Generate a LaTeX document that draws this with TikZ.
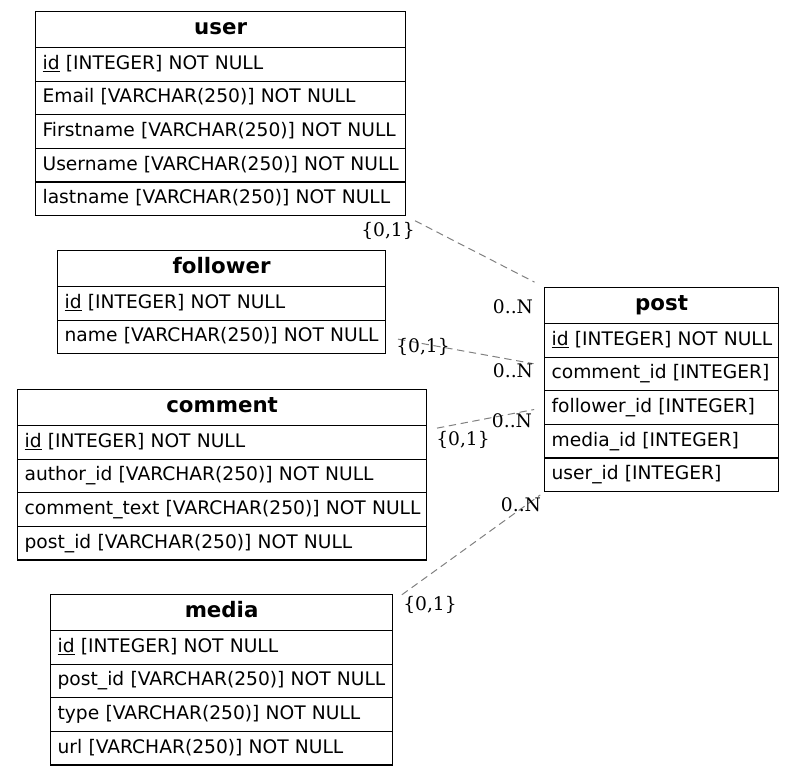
\documentclass[tikz,border=0pt]{standalone}
\usepackage{fontspec}
\setmainfont{DejaVu Sans}
\newfontfamily\cardfont{DejaVu Serif}
\tikzstyle{tblhead} = [draw, line width=0.9pt, anchor=north west, minimum height=27pt, inner xsep=5.25pt, align=center, text height=0.85em, text depth=0.12em, font=\fontsize{16}{19}\selectfont\bfseries]
\tikzstyle{tblrow} = [draw, line width=0.9pt, anchor=north west, minimum height=25.2pt, inner xsep=5.25pt, align=left, text height=0.85em, text depth=0.11em, font=\fontsize{14}{17}\selectfont, execute at begin node={\hbox\bgroup}, execute at end node={\egroup}]
\tikzstyle{rel} = [gray, line width=0.75pt, dash pattern=on 5.5pt off 3.5pt]
\tikzstyle{card} = [anchor=base, inner sep=0pt, font=\cardfont\fontsize{14}{17}\selectfont]

\begin{document}
\begin{tikzpicture}[x=0.75pt, y=-0.75pt]
        \useasboundingbox (0,0) rectangle (795,775);
        % Node positions
        \node[tblhead, text width=267pt] (usertitle) at (35,11) {user};
        \node[tblrow, text width=267pt] (userid) at (35,47) {\underline{id} [INTEGER] NOT NULL};
        \node[tblrow, text width=267pt] (useremail) at (35,80.6) {Email [VARCHAR(250)] NOT NULL};
        \node[tblrow, text width=267pt] (userfirst) at (35,114.2) {Firstname [VARCHAR(250)] NOT NULL};
        \node[tblrow, text width=267pt] (username) at (35,147.8) {Username [VARCHAR(250)] NOT NULL};
        \node[tblrow, text width=267pt] (userlast) at (35,181.4) {lastname [VARCHAR(250)] NOT NULL};

        \node[tblhead, text width=235.5pt] (followertitle) at (57,250) {follower};
        \node[tblrow, text width=235.5pt] (followerid) at (57,286) {\underline{id} [INTEGER] NOT NULL};
        \node[tblrow, text width=235.5pt] (followername) at (57,319.6) {name [VARCHAR(250)] NOT NULL};

        \node[tblhead, text width=296.25pt] (commenttitle) at (17,389) {comment};
        \node[tblrow, text width=296.25pt] (commentid) at (17,425) {\underline{id} [INTEGER] NOT NULL};
        \node[tblrow, text width=296.25pt] (commentauthor) at (17,458.6) {author\_id [VARCHAR(250)] NOT NULL};
        \node[tblrow, text width=296.25pt] (commenttext) at (17,492.2) {comment\_text [VARCHAR(250)] NOT NULL};
        \node[tblrow, text width=296.25pt] (commentpost) at (17,525.8) {post\_id [VARCHAR(250)] NOT NULL};

        \node[tblhead, text width=246pt] (mediatitle) at (50,594) {media};
        \node[tblrow, text width=246pt] (mediaid) at (50,630) {\underline{id} [INTEGER] NOT NULL};
        \node[tblrow, text width=246pt] (mediapost) at (50,663.6) {post\_id [VARCHAR(250)] NOT NULL};
        \node[tblrow, text width=246pt] (mediatype) at (50,697.2) {type [VARCHAR(250)] NOT NULL};
        \node[tblrow, text width=246pt] (mediaurl) at (50,730.8) {url [VARCHAR(250)] NOT NULL};

        \node[tblhead, text width=165pt] (posttitle) at (544,287) {post};
        \node[tblrow, text width=165pt] (postid) at (544,323) {\underline{id} [INTEGER] NOT NULL};
        \node[tblrow, text width=165pt] (postcomment) at (544,356.6) {comment\_id [INTEGER]};
        \node[tblrow, text width=165pt] (postfollower) at (544,390.2) {follower\_id [INTEGER]};
        \node[tblrow, text width=165pt] (postmedia) at (544,423.8) {media\_id [INTEGER]};
        \node[tblrow, text width=165pt] (postuser) at (544,457.4) {user\_id [INTEGER]};

        % Relations
        \draw[rel, shorten <=7.5pt, shorten >=8pt] (userlast.south east) -- (posttitle.north west);
        \draw[rel, shorten <=9pt, shorten >=8pt] (followername.east) -- ([yshift=-6.75pt]postcomment.north west);
        \draw[rel, shorten <=7.5pt, shorten >=7.5pt] ([yshift=-3.75pt]commentid.north east) -- (postfollower.west);
        \draw[rel, shorten <=8pt, shorten >=3.5pt] ([yshift=-5.25pt]mediatitle.north east) -- (postuser.south west);

        % Cardinalities
        \node[card] (useronecard) at (388,236) {\{0,1\}};
        \node[card] (usermanycard) at (513,313) {0..N};
        \node[card] (followeronecard) at (423,352) {\{0,1\}};
        \node[card] (followermanycard) at (513,377) {0..N};
        \node[card] (commentmanycard) at (512,427) {0..N};
        \node[card] (commentonecard) at (463,445) {\{0,1\}};
        \node[card] (mediamanycard) at (521,511) {0..N};
        \node[card] (mediaonecard) at (430,610) {\{0,1\}};
\end{tikzpicture}
\end{document}
